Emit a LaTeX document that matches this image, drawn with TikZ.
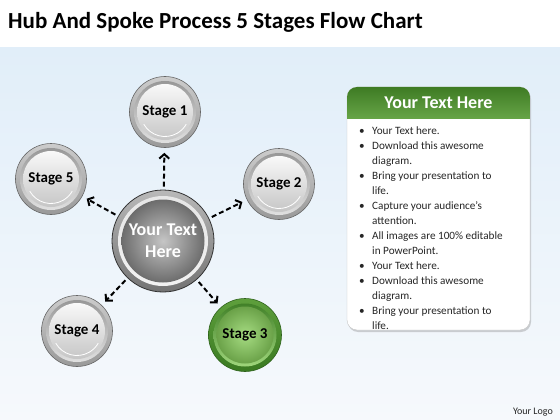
\documentclass[tikz,border=0pt]{standalone}
\usepackage{fontspec}
\setmainfont{Carlito}
\usetikzlibrary{arrows.meta,shadows}
\definecolor{bgtop}{HTML}{E1EEF9}
\definecolor{bgbot}{HTML}{F6F9FC}
\definecolor{hdrtop}{HTML}{3E7B24}
\definecolor{hdrbot}{HTML}{66A446}
\definecolor{grA}{HTML}{3A7A22}
\definecolor{grB}{HTML}{7DBE55}
\definecolor{grC}{HTML}{A6DC82}
\definecolor{grD}{HTML}{5E9F3C}
\tikzset{
  graystage/.style={circle, minimum size=71pt, inner sep=0pt,
    draw=gray!80!black, line width=0.6pt,
    top color=gray!40, bottom color=gray!80,
    font=\bfseries\fontsize{15}{18}\selectfont,
    path picture={
      \shade[top color=gray!85, bottom color=white!80!gray] (path picture bounding box.center) circle (31pt);
      \shade[top color=white!95!gray, bottom color=gray!45] (path picture bounding box.center) circle (28pt);
      \draw[white, line width=0.8pt] (path picture bounding box.center) ++(-150:24.5pt) arc[start angle=-150, end angle=-30, radius=24.5pt];
    }},
  greenstage/.style={circle, minimum size=73pt, inner sep=0pt,
    draw=grA!80!black, line width=0.6pt,
    top color=grD, bottom color=grA,
    font=\bfseries\fontsize{15}{18}\selectfont,
    path picture={
      \shade[top color=grA, bottom color=grC] (path picture bounding box.center) circle (31.5pt);
      \shade[inner color=grC, outer color=grB!85!black] (path picture bounding box.center) circle (28.5pt);
    }},
  hubstage/.style={circle, minimum size=102pt, inner sep=0pt,
    draw=gray!40!black, line width=0.8pt,
    top color=gray!55, bottom color=gray!90!black,
    text=white, align=center,
    font=\bfseries\fontsize{18}{22}\selectfont,
    path picture={
      \shade[top color=gray!20, bottom color=white!90!gray] (path picture bounding box.center) circle (45pt);
      \shade[inner color=gray!45, outer color=gray!85!black] (path picture bounding box.center) circle (41.5pt);
    }},
  arr/.style={line width=2pt, dash pattern=on 5pt off 3pt,
    -{Straight Barb[length=4.5pt,width=10pt,line width=2pt]},
    shorten >=5pt, shorten <=3pt},
  bodytext/.style={font=\fontsize{11.2}{14.95}\selectfont, text=black!85},
}
\begin{document}
\begin{tikzpicture}[x=1pt,y=-1pt]
\useasboundingbox (0,0) rectangle (560,420);
\fill[white] (0,0) rectangle (560,48);
\shade[top color=bgtop, bottom color=bgbot] (0,48) rectangle (560,420);

\node[anchor=base west, inner sep=0pt, font=\bfseries\fontsize{23}{27}\selectfont] (title) at (8,29) {Hub And Spoke Process 5 Stages Flow Chart};

\node[hubstage] (hub) at (163,241) {Your Text\\Here};
\node[graystage] (s1) at (165,112) {Stage 1};
\node[graystage] (s2) at (279,184) {Stage 2};
\node[greenstage] (s3) at (245,335) {Stage 3};
\node[graystage] (s4) at (77,331) {Stage 4};
\node[graystage] (s5) at (51,179) {Stage 5};

\draw[arr] (hub) -- (s1);
\draw[arr] (hub) -- (s2);
\draw[arr] (hub) -- (s3);
\draw[arr] (hub) -- (s4);
\draw[arr] (hub) -- (s5);

\node[draw=gray!45, fill=white, rounded corners=10pt, minimum width=183pt, minimum height=243pt, inner sep=0pt,
  drop shadow={shadow xshift=1pt, shadow yshift=-2pt, opacity=0.35}] (box) at (438.5,208.5) {};
\begin{scope}
  \clip[rounded corners=10pt] (347,87) rectangle (530,330);
  \shade[top color=hdrtop, bottom color=hdrbot] (347,87) rectangle (530,118);
\end{scope}
\node[text=white, font=\bfseries\fontsize{18}{22}\selectfont] (hdr) at (438.5,103) {Your Text Here};

\node[bodytext, anchor=north west, inner sep=0pt] (list) at (357,124) {%
\begin{tabular}{@{}p{15pt}@{}l@{}}
\hspace{2pt}\textbullet & Your Text here.\\
\hspace{2pt}\textbullet & Download this awesome\\
 & diagram.\\
\hspace{2pt}\textbullet & Bring your presentation to\\
 & life.\\
\hspace{2pt}\textbullet & Capture your audience’s\\
 & attention.\\
\hspace{2pt}\textbullet & All images are 100\% editable\\
 & in PowerPoint.\\
\hspace{2pt}\textbullet & Your Text here.\\
\hspace{2pt}\textbullet & Download this awesome\\
 & diagram.\\
\hspace{2pt}\textbullet & Bring your presentation to\\
 & life.
\end{tabular}};

\node[anchor=base east, inner sep=0pt, font=\fontsize{10}{12}\selectfont, text=black!85] (logo) at (553,414) {Your Logo};
\end{tikzpicture}
\end{document}
